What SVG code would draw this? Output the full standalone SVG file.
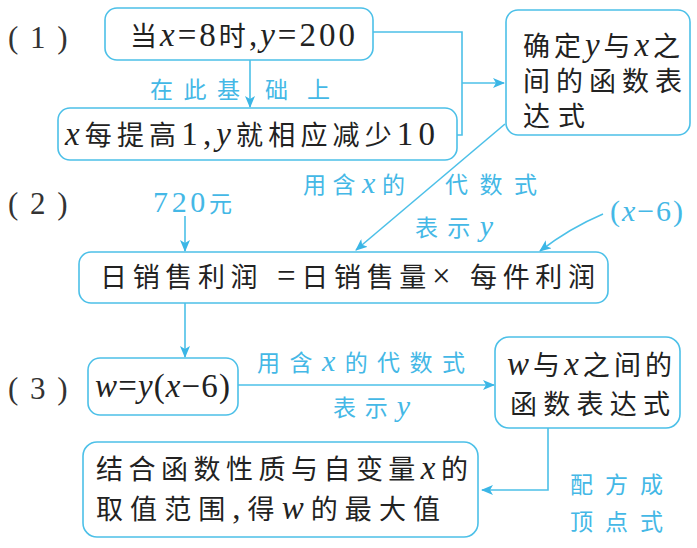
<svg xmlns="http://www.w3.org/2000/svg" width="697" height="548" viewBox="0 0 697 548">
<defs>
<style>
.box{fill:#fff;stroke:#4cc0e8;stroke-width:1.6}
.ln{fill:none;stroke:#4cc0e8;stroke-width:1.6}
.t{font-family:"Liberation Serif","Noto Sans CJK SC",serif;font-size:27px;fill:#222}
.lb{font-family:"Liberation Serif","Noto Sans CJK SC",serif;font-size:23px;fill:#44b8e6}
.t .l{font-size:33px}
.lb .l{font-size:30px}
.v{font-style:italic}
.num{font-family:"Liberation Serif",serif;font-size:31px;fill:#333;letter-spacing:2px}
</style>
<marker id="ah" viewBox="0 0 12 10" refX="11" refY="5" markerWidth="12" markerHeight="10" markerUnits="userSpaceOnUse" orient="auto">
<path d="M0,0 L12,5 L0,10 L3,5 z" fill="#3bb6e6"/>
</marker>
</defs>
<rect width="697" height="548" fill="#fff"/>

<g id="connectors">
<path class="ln" d="M250,60 V107" marker-end="url(#ah)"/>
<path class="ln" d="M373,32 H462 V135 H457"/>
<path class="ln" d="M462,83 H504" marker-end="url(#ah)"/>
<path class="ln" d="M505,124 L356,250" marker-end="url(#ah)"/>
<path class="ln" d="M185,216 V251" marker-end="url(#ah)"/>
<path class="ln" d="M603,214 Q570,228 540,251" marker-end="url(#ah)"/>
<path class="ln" d="M185,303 V357" marker-end="url(#ah)"/>
<path class="ln" d="M238,385 H494" marker-end="url(#ah)"/>
<path class="ln" d="M548,428 V490 H482" marker-end="url(#ah)"/>
</g>

<g id="labels">
<text class="num" x="8" y="48" xml:space="preserve">( 1 )</text>
<text class="num" x="8" y="214" xml:space="preserve">( 2 )</text>
<text class="num" x="8" y="399" xml:space="preserve">( 3 )</text>
<text class="lb" x="150" y="98" textLength="90" lengthAdjust="spacing">在此基</text>
<text class="lb" x="265" y="98" textLength="65" lengthAdjust="spacing">础上</text>
<text class="lb" x="303" y="193" textLength="102" lengthAdjust="spacing">用含<tspan class="v l">x</tspan>的</text>
<text class="lb" x="445" y="193" textLength="92" lengthAdjust="spacing">代数式</text>
<text class="lb" x="415" y="236" textLength="78" lengthAdjust="spacing">表示<tspan class="v l">y</tspan></text>
<text class="lb" x="153" y="212" textLength="79" lengthAdjust="spacing"><tspan class="l">720</tspan>元</text>
<text class="lb" x="610" y="221" textLength="73" lengthAdjust="spacing"><tspan class="l">(</tspan><tspan class="v l">x</tspan><tspan class="l">−6)</tspan></text>
<text class="lb" x="257" y="371" textLength="208" lengthAdjust="spacing">用含<tspan class="v l">x</tspan>的代数式</text>
<text class="lb" x="333" y="416" textLength="77" lengthAdjust="spacing">表示<tspan class="v l">y</tspan></text>
<text class="lb" x="570" y="493" textLength="93" lengthAdjust="spacing">配方成</text>
<text class="lb" x="570" y="530" textLength="93" lengthAdjust="spacing">顶点式</text>
</g>

<g id="n1">
<rect class="box" x="105" y="8" width="268" height="52" rx="12"/>
<text class="t" x="130" y="46" textLength="225" lengthAdjust="spacing">当<tspan class="v l">x</tspan><tspan class="l">=8</tspan>时<tspan class="l">,</tspan><tspan class="v l">y</tspan><tspan class="l">=200</tspan></text>
</g>
<g id="n2">
<rect class="box" x="58" y="108" width="399" height="52" rx="12"/>
<text class="t" x="65" y="145" textLength="370" lengthAdjust="spacing"><tspan class="v l">x</tspan>每提高<tspan class="l">1,</tspan><tspan class="v l">y</tspan>就相应减少<tspan class="l">10</tspan></text>
</g>
<g id="n3">
<rect class="box" x="506" y="10" width="184" height="125" rx="12"/>
<text class="t" x="523" y="56" textLength="157" lengthAdjust="spacing">确定<tspan class="v l">y</tspan>与<tspan class="v l">x</tspan>之</text>
<text class="t" x="523" y="91" textLength="159" lengthAdjust="spacing">间的函数表</text>
<text class="t" x="523" y="126" textLength="62" lengthAdjust="spacing">达式</text>
</g>
<g id="n4">
<rect class="box" x="79" y="252" width="529" height="51" rx="12"/>
<text class="t" x="100" y="287" textLength="495" lengthAdjust="spacing" xml:space="preserve">日销售利润<tspan class="l"> =</tspan>日销售量<tspan class="l">× </tspan>每件利润</text>
</g>
<g id="n5">
<rect class="box" x="88" y="358" width="150" height="57" rx="12"/>
<text class="t" x="95" y="397" textLength="135" lengthAdjust="spacing"><tspan class="v l">w</tspan><tspan class="l">=</tspan><tspan class="v l">y</tspan><tspan class="l">(</tspan><tspan class="v l">x</tspan><tspan class="l">−6)</tspan></text>
</g>
<g id="n6">
<rect class="box" x="495" y="337" width="185" height="91" rx="14"/>
<text class="t" x="507" y="375" textLength="165" lengthAdjust="spacing"><tspan class="v l">w</tspan>与<tspan class="v l">x</tspan>之间的</text>
<text class="t" x="510" y="414" textLength="160" lengthAdjust="spacing">函数表达式</text>
</g>
<g id="n7">
<rect class="box" x="83" y="442" width="395" height="95" rx="14"/>
<text class="t" x="96" y="479" textLength="372" lengthAdjust="spacing">结合函数性质与自变量<tspan class="v l">x</tspan>的</text>
<text class="t" x="96" y="519" textLength="344" lengthAdjust="spacing">取值范围<tspan class="l">,</tspan>得<tspan class="v l">w</tspan>的最大值</text>
</g>
</svg>
